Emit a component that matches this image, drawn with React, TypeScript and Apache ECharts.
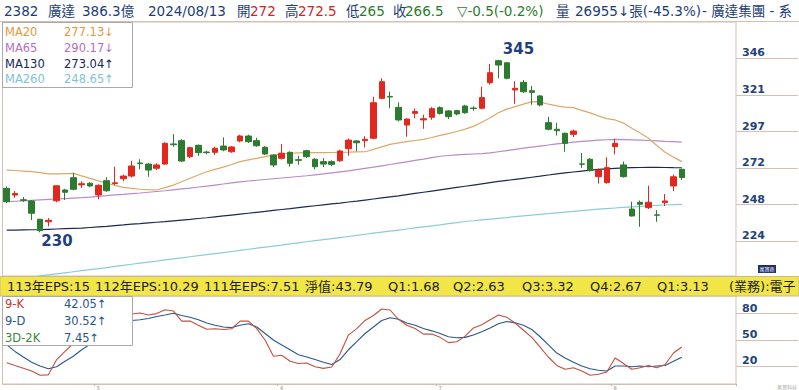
import React, { useEffect, useRef } from "react";
import * as echarts from "echarts";

// ---- data ----
// [open, close, low, high]
const candles: number[][] = [
  [259.3, 250.4, 249.5, 260.5], [254.8, 255.8, 253, 257.5], [251.7, 251.3, 250.3, 253.5], [250.9, 242.7, 238.2, 251.5],
  [238.7, 231.1, 230, 239], [237, 238, 234, 239.5], [251, 261, 250, 261.5], [258.2, 256.7, 251.5, 259],
  [266.4, 258.7, 258, 269.7], [261.6, 262.4, 259.5, 264], [262.7, 260.9, 260, 263.5], [254.9, 261.3, 252, 262],
  [264.4, 257.7, 257, 266.7], [262.5, 263, 261.5, 273.7], [265.7, 267.5, 264, 268.5], [267.5, 274.2, 266.5, 277.7],
  [276.2, 275.8, 272, 278.7], [275.5, 271.5, 267, 276], [272.7, 274.9, 271.5, 276], [275.5, 289.3, 275, 290],
  [288.9, 288.4, 287, 295.5], [291.1, 277.5, 277, 292], [280.4, 286.4, 279.5, 287], [288, 283.1, 281, 288.5],
  [283.5, 283.1, 282, 284.5], [283.3, 286, 281.5, 287], [287.5, 284.9, 284, 293.3], [283.7, 286.9, 283, 287.5],
  [290.9, 294.2, 290, 295], [294.2, 290.4, 289.5, 295], [291.1, 287.7, 287, 293], [286.7, 282.2, 281.5, 287.5],
  [281.5, 274.9, 273.5, 282], [279.3, 282.7, 278.5, 288.9], [283.3, 276, 273.7, 284], [278.4, 278, 275, 281],
  [284.4, 280.4, 279.5, 285], [278.7, 273.7, 272, 279.5], [277.1, 275.5, 273.5, 279.5], [277.1, 275.3, 274, 278],
  [277.7, 284.2, 277, 285], [285.7, 291.5, 281, 292.5], [290.9, 289.7, 284, 291.5], [291.1, 292, 286.5, 294],
  [292.7, 316.4, 292, 320.4], [319.3, 330.4, 318.7, 332.7], [320.6, 320.2, 312.7, 323.8], [313.3, 304.9, 304, 316.7],
  [301.5, 305.5, 293.7, 306], [309.3, 310.5, 306, 312.5], [304.9, 305.7, 299, 308.4], [306.7, 312.4, 305, 313.5],
  [313.1, 309.3, 308.5, 314], [310.9, 307.1, 305.5, 311.5], [311.1, 308.9, 308, 311.5], [314.2, 309.7, 309, 315],
  [312.8, 312.6, 311, 314], [312.7, 319.8, 312, 327.1], [329.7, 336.4, 328.5, 342.2], [344.4, 341.5, 332.7, 345],
  [343, 332.7, 332, 343.5], [324.9, 326, 315.6, 330.7], [330, 323.7, 323, 331.5], [324.4, 323.3, 315, 327.6],
  [320.9, 314.9, 314, 321.5], [303.1, 298.7, 298, 307], [298.7, 297.7, 294.5, 303], [296, 289.3, 283.7, 296.5],
  [295.3, 297.5, 293.5, 298.5], [275.6, 275.4, 273, 282.9], [278.7, 271.1, 270.5, 279.5], [267.1, 271.5, 262.5, 272.5],
  [263.1, 273.1, 262.5, 280], [287.1, 289.3, 282, 292.4], [274.9, 267.1, 266.5, 277.2], [245.5, 240.9, 240.5, 250.4],
  [250, 248.7, 233.7, 251.2], [246.4, 250, 245.5, 261.1], [241.6, 241.4, 237, 244.8], [249.8, 250.9, 247.5, 255.5],
  [260.9, 267, 257.5, 268.5], [272, 266.5, 265, 272.5],
];

const ma20 = [
  271.5, 271.2, 270.8, 270.4, 269.8, 269.0, 268.9, 269.1, 269.3, 267.6,
  266.0, 264.3, 262.7, 261.3, 260.0, 259.3, 258.7, 258.4, 258.2, 259.8,
  261.5, 263.7, 266.0, 268.2, 270.4, 272.0, 273.5, 275.2, 277.1, 278.3,
  279.3, 280.5, 281.5, 282.2, 282.7, 283.0, 283.1, 283.1, 283.1, 283.2,
  283.3, 283.4, 283.6, 283.7, 285.3, 287.0, 288.6, 289.6, 290.4, 291.2,
  292.0, 293.2, 294.6, 295.8, 297.2, 298.8, 300.6, 303.4, 306.4, 309.7,
  312.1, 313.8, 315.5, 317.1, 317.0, 315.4, 314.3, 313.5, 313.1, 311.3,
  309.6, 307.6, 305.8, 304.9, 302.8, 299.4, 296.2, 292.7, 287.9, 283.4,
  280.1, 277.13,
];
const ma65 = [
  250.4, 250.7, 251.0, 251.3, 251.6, 251.9, 252.2, 252.5, 252.8, 253.1,
  253.5, 254.0, 254.4, 254.9, 255.3, 255.8, 256.2, 256.7, 257.2, 257.7,
  258.3, 258.9, 259.5, 260.2, 260.8, 261.5, 262.2, 262.9, 263.6, 264.2,
  264.7, 265.2, 265.7, 266.2, 266.7, 267.2, 267.7, 268.3, 268.9, 269.6,
  270.3, 271.0, 271.8, 272.6, 273.4, 274.3, 275.2, 276.1, 277.0, 277.9,
  278.8, 279.8, 280.7, 281.2, 281.6, 281.9, 282.2, 282.5, 282.9, 283.7,
  284.5, 285.3, 286.1, 286.8, 287.5, 288.2, 288.9, 289.5, 290.1, 290.6,
  291.0, 291.4, 291.7, 291.9, 291.8, 291.6, 291.4, 291.2, 290.9, 290.6,
  290.4, 290.17,
];
const ma130 = [
  231.5, 231.5, 231.6, 231.7, 231.8, 232.0, 232.2, 232.4, 232.6, 232.8,
  233.2, 233.6, 234.0, 234.5, 234.9, 235.4, 235.8, 236.3, 236.7, 237.1,
  237.6, 238.1, 238.6, 239.2, 239.7, 240.3, 240.9, 241.5, 242.1, 242.7,
  243.3, 243.9, 244.6, 245.2, 245.8, 246.5, 247.1, 247.7, 248.3, 248.9,
  249.5, 250.2, 250.8, 251.5, 252.2, 252.9, 253.6, 254.3, 255.1, 255.9,
  256.7, 257.5, 258.3, 259.1, 259.9, 260.7, 261.5, 262.3, 263.1, 263.9,
  264.6, 265.3, 266.0, 266.7, 267.4, 268.2, 268.9, 269.6, 270.2, 270.8,
  271.4, 271.9, 272.3, 272.6, 272.9, 273.1, 273.2, 273.3, 273.3, 273.2,
  273.1, 273.04,
];
const ma260 = [
  198.0, 198.7, 199.4, 200.1, 200.9, 201.6, 202.3, 203.0, 203.7, 204.4,
  205.1, 205.8, 206.5, 207.3, 208.0, 208.7, 209.4, 210.1, 210.8, 211.6,
  212.3, 213.0, 213.7, 214.4, 215.1, 215.8, 216.5, 217.2, 217.9, 218.7,
  219.4, 220.1, 220.8, 221.5, 222.3, 223.0, 223.7, 224.4, 225.1, 225.8,
  226.5, 227.2, 227.9, 228.7, 229.4, 230.1, 230.8, 231.5, 232.2, 232.9,
  233.6, 234.3, 235.0, 235.8, 236.5, 237.2, 237.7, 238.3, 238.8, 239.3,
  239.8, 240.4, 240.9, 241.4, 241.9, 242.4, 243.0, 243.5, 244.0, 244.5,
  245.0, 245.4, 245.8, 246.2, 246.6, 247.0, 247.3, 247.6, 247.9, 248.2,
  248.4, 248.65,
];
const kLine = [
  24.1, 21, 18, 14.8, 10, 10.4, 27.8, 37, 46, 55,
  60, 62, 66, 70, 74, 79.6, 80.7, 78.5, 80, 84.4,
  83, 71.5, 71.5, 66.7, 62.2, 62.8, 61.9, 62.8, 71.5, 71.5,
  63, 50, 31.5, 32.6, 25.9, 23.3, 23.9, 19.6, 17.8, 19.3,
  34.4, 55.6, 63, 72.2, 77.8, 85.2, 84.1, 73.5, 66.7, 63,
  56.7, 56.7, 53, 47, 48.1, 54.4, 63.7, 67.4, 73, 78.5,
  75.9, 69.3, 61.1, 53, 41.9, 30.4, 21.1, 16.7, 18.5, 14.8,
  10, 11.1, 13.7, 29.6, 23.3, 16.7, 18.5, 21.1, 18.5, 22.2,
  35.2, 42.05,
];
const dLine = [
  44.4, 37, 30.7, 24.8, 20.4, 17.4, 19.6, 25.9, 31.5, 38.9,
  45, 51, 57, 62, 67, 72.2, 73, 74.5, 76.7, 78.5,
  80.4, 77.8, 75.9, 73, 69.3, 66.7, 64.8, 64.1, 66.7, 68.5,
  64.8, 57.4, 50, 44.4, 38.9, 33.3, 30.7, 27.8, 24.8, 22.2,
  27.8, 38.9, 48.1, 57.4, 64.8, 72.2, 75.2, 73.5, 69.3, 66.7,
  63, 60.4, 57.4, 53.7, 52.6, 53, 55.6, 59.3, 63.7, 68.5,
  71.1, 69.5, 66.7, 61.9, 53.7, 44.4, 35.2, 29.6, 24.8, 20.4,
  17.4, 15.6, 14.8, 20.4, 20.4, 19.6, 20.4, 19.6, 20.4, 21.1,
  25.9, 30.52,
];
const priceTicks = [224, 248.4, 272.8, 297.2, 321.6, 346];
const kdTicks = [20, 50, 80];
const monthMarks: Record<number, string> = { 11: "5", 33: "6", 52: "7", 73: "8" };
const emptySlots = 6;
const peak = { index: 59, value: 345 };
const trough = { index: 4, value: 230 };

const maLegend = [
  { name: "MA20", value: "277.13↓", color: "#e8963a" },
  { name: "MA65", value: "290.17↓", color: "#b46fc0" },
  { name: "MA130", value: "273.04↑", color: "#152659" },
  { name: "MA260", value: "248.65↑", color: "#7fc3d3" },
];
const kdLegend = [
  { name: "9-K", value: "42.05↑", color: "#c4392f" },
  { name: "9-D", value: "30.52↑", color: "#2a5690" },
  { name: "3D-2K", value: "7.45↑", color: "#3a8a3a" },
];
const epsItems = [
  "113年EPS:15", "112年EPS:10.29", "111年EPS:7.51", "淨值:43.79",
  "Q1:1.68", "Q2:2.63", "Q3:3.32", "Q4:2.67", "Q1:3.13", "(業務):電子",
];
const epsX = [7, 95, 204, 305, 388, 453, 522, 590, 657, 729];

const NAVY = "#1d3d78";
const RED = "#d0261e";
const GREEN = "#2c7c2c";
const headerItems = [
  { t: "2382", x: 4, c: NAVY }, { t: "廣達", x: 48, c: NAVY }, { t: "386.3億", x: 82, c: NAVY },
  { t: "2024/08/13", x: 148, c: NAVY }, { t: "開", x: 237, c: NAVY }, { t: "272", x: 250, c: RED },
  { t: "高", x: 285, c: NAVY }, { t: "272.5", x: 298, c: RED }, { t: "低", x: 346, c: NAVY },
  { t: "265", x: 359, c: GREEN }, { t: "收", x: 393, c: NAVY }, { t: "266.5", x: 405, c: GREEN },
  { t: "▽-0.5(-0.2%)", x: 457, c: GREEN }, { t: "量", x: 556, c: NAVY },
  { t: "26955↓張(-45.3%)", x: 575, c: NAVY }, { t: "- 廣達集團 - 系", x: 702, c: NAVY },
];

const TAN = "#d7c0b2";
const FONT = "DejaVu Sans";
const CJK_FONT = "DejaVu Sans, Noto Sans CJK TC";

export default function App() {
  const ref = useRef<HTMLDivElement>(null);
  useEffect(() => {
    const chart = echarts.init(ref.current!, null, { renderer: "svg" });
    const categories = candles.map((_, i) => String(i + 1)).concat(
      Array.from({ length: emptySlots }, (_, i) => "e" + i)
    );

    const txt = (text: string, x: number, y: number, fill: string, fontSize: number, extra: any = {}) => ({
      type: "text", z: 101, x, y,
      style: { text, fill, fontSize, fontFamily: CJK_FONT, verticalAlign: "middle", ...extra },
    });

    const graphics: any[] = [];
    // header
    headerItems.forEach((h) => graphics.push(txt(h.t, h.x, 11, h.c, 13.5)));
    graphics.push({ type: "line", z: 99, shape: { x1: 0, y1: 21.5, x2: 799, y2: 21.5 }, style: { stroke: TAN, lineWidth: 1 } });
    // MA legend box
    graphics.push({ type: "rect", z: 100, shape: { x: 2.5, y: 22.5, width: 130, height: 65 }, style: { fill: "#fff", stroke: "#a9a9a9", lineWidth: 1 } });
    maLegend.forEach((m, i) => {
      graphics.push(txt(m.name, 5, 32.3 + i * 15.7, m.color, 11.5));
      graphics.push(txt(m.value, 64, 32.3 + i * 15.7, m.color, 11.5));
    });
    // EPS bar
    graphics.push({ type: "rect", z: 100, shape: { x: 0, y: 276.5, width: 799, height: 19.5 }, style: { fill: "#f1e547", stroke: "#cdb98a", lineWidth: 1 } });
    epsItems.forEach((t, i) => graphics.push(txt(t, epsX[i], 286.5, "#1c1c1c", 13)));
    // KD legend box
    graphics.push({ type: "rect", z: 100, shape: { x: 2.5, y: 296.5, width: 130, height: 49 }, style: { fill: "#fff", stroke: "#a9a9a9", lineWidth: 1 } });
    kdLegend.forEach((m, i) => {
      graphics.push(txt(m.name, 5, 303.5 + i * 17, m.color, 11.5));
      graphics.push(txt(m.value, 64, 303.5 + i * 17, "#2a5690", 11.5));
    });
    // badge
    graphics.push({ type: "rect", z: 100, shape: { x: 758, y: 265, width: 18, height: 8 }, style: { fill: "#1e2d6b" } });
    graphics.push(txt("萬寶商", 767, 269, "#fff", 5, { align: "center" }));
    graphics.push(txt("萬寶科技", 797, 387, "#aaa", 5, { align: "right" }));

    const lineS = (name: string, data: number[], color: string, xi = 0, yi = 0, w = 1.2) => ({
      type: "line", name, data, xAxisIndex: xi, yAxisIndex: yi, symbol: "none",
      lineStyle: { color, width: w }, itemStyle: { color }, z: 3, silent: true,
    });

    chart.setOption({
      animation: false,
      backgroundColor: "#fff",
      textStyle: { fontFamily: FONT },
      grid: [
        { left: 2.5, width: 733.5, top: 22, height: 254, show: true, borderColor: TAN, borderWidth: 1, backgroundColor: "#fff" },
        { left: 2.5, width: 733.5, top: 296, height: 88, show: true, borderColor: TAN, borderWidth: 1, backgroundColor: "#fff" },
      ],
      xAxis: [
        { type: "category", gridIndex: 0, data: categories, boundaryGap: true, axisLine: { show: false }, axisTick: { show: false }, axisLabel: { show: false } },
        {
          type: "category", gridIndex: 1, data: categories, boundaryGap: true,
          axisLine: { show: true, lineStyle: { color: TAN } },
          axisTick: { show: true, length: 2, lineStyle: { color: "#b5b5b5" } },
          axisLabel: {
            show: true, fontSize: 5, color: "#888", margin: 1,
            interval: (idx: number) => monthMarks[idx] !== undefined,
            formatter: (_v: string, idx: number) => monthMarks[idx] ?? "",
          },
        },
      ],
      yAxis: [
        {
          type: "value", gridIndex: 0, position: "right", min: 200.87, max: 370.2,
          splitLine: { show: false }, axisLine: { show: false },
          axisTick: { show: true, inside: false, length: 62, customValues: priceTicks, lineStyle: { color: TAN } },
          axisLabel: {
            show: true, customValues: priceTicks, formatter: (v: number) => String(Math.floor(v + 1e-6)),
            color: "#22427a", fontSize: 11, fontWeight: "bold", fontFamily: FONT, align: "left", verticalAlign: "bottom", margin: 6,
          },
        },
        {
          type: "value", gridIndex: 1, position: "right", min: 0, max: 100,
          splitLine: { show: false }, axisLine: { show: false },
          axisTick: { show: true, inside: false, length: 62, customValues: kdTicks, lineStyle: { color: TAN } },
          axisLabel: {
            show: true, customValues: kdTicks, color: "#22427a", fontSize: 11, fontWeight: "bold", fontFamily: FONT,
            align: "left", verticalAlign: "bottom", margin: 6,
          },
        },
      ],
      series: [
        lineS("MA260", ma260, "#8ccbd9"),
        lineS("MA130", ma130, "#1a2a52"),
        lineS("MA65", ma65, "#b88ac8"),
        lineS("MA20", ma20, "#dca868"),
        {
          type: "candlestick", name: "K", data: candles, xAxisIndex: 0, yAxisIndex: 0, barWidth: 6, z: 4,
          itemStyle: { color: "#e2281e", color0: "#2d7a31", borderColor: "#e2281e", borderColor0: "#2d7a31", borderWidth: 1 },
          markPoint: {
            symbol: "circle", symbolSize: 0, silent: true,
            label: { show: true, color: "#1f3f7f", fontFamily: FONT, fontWeight: "bold", fontSize: 15 },
            data: [
              { coord: [peak.index, peak.value], value: peak.value, label: { formatter: String(peak.value), offset: [20, -11] } },
              { coord: [trough.index, trough.value], value: trough.value, label: { formatter: String(trough.value), offset: [17, 9] } },
            ],
          },
        },
        lineS("9-D", dLine, "#2a5690", 1, 1, 1.1),
        lineS("9-K", kLine, "#c0503f", 1, 1, 1.1),
      ],
      graphic: graphics,
    });
    return () => chart.dispose();
  }, []);
  return <div ref={ref} style={{ position: "fixed", left: 0, top: 0, width: 799, height: 390, background: "#fff" }} />;
}
